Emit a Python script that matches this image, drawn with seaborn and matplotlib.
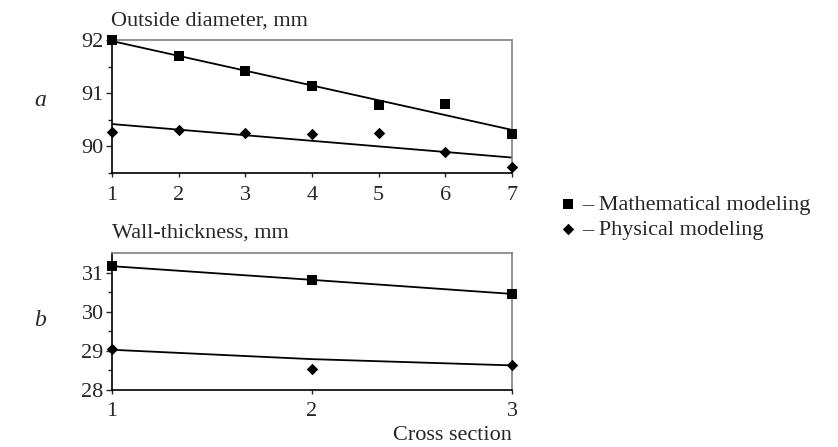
import numpy as np
import pandas as pd
import matplotlib.pyplot as plt
import seaborn as sns

# =====================================================================
# Données
# =====================================================================
# (a) diamètre extérieur, sections 1..7
sections_a = [1, 2, 3, 4, 5, 6, 7]
diam_math = [92.0, 91.70, 91.41, 91.14, 90.77, 90.79, 90.24]
diam_phys = [90.28, 90.30, 90.25, 90.23, 90.25, 89.90, 89.61]
trend_x_a = [1, 7]
trend_diam_math = [91.98, 90.31]
trend_diam_phys = [90.42, 89.79]

# (b) épaisseur de paroi, sections 1..3
sections_b = [1, 2, 3]
wall_math = [31.17, 30.82, 30.47]
wall_phys = [29.05, 28.55, 28.63]
trend_x_b = [1, 2, 3]
trend_wall_math = [31.17, 30.82, 30.46]
trend_wall_phys = [29.03, 28.79, 28.63]

label_math = "\u2013 Mathematical modeling"
label_phys = "\u2013 Physical modeling"

# =====================================================================
# Style
# =====================================================================
sns.set_style("ticks")
plt.rcParams['font.family'] = ['Liberation Serif', 'DejaVu Serif']
plt.rcParams['font.size'] = 16

W, H = 838, 447
fig = plt.figure(figsize=(W / 100, H / 100), dpi=100)
ax_a = fig.add_axes([112 / W, 1 - 173 / H, 400 / W, 133 / H])
ax_b = fig.add_axes([112 / W, 1 - 390 / H, 400 / W, 136.7 / H])

# =====================================================================
# Tracés
# =====================================================================
# 1. Panneau a
sns.lineplot(x=trend_x_a, y=trend_diam_math, color='black', lw=1.3, ax=ax_a)
sns.lineplot(x=trend_x_a, y=trend_diam_phys, color='black', lw=1.3, ax=ax_a)
sns.scatterplot(x=sections_a, y=diam_math, marker='s', s=50, color='black',
                edgecolor='black', linewidth=0, ax=ax_a, zorder=3, clip_on=False,
                legend=False, label=label_math)
sns.scatterplot(x=sections_a, y=diam_phys, marker='D', s=34, color='black',
                edgecolor='black', linewidth=0, ax=ax_a, zorder=3, clip_on=False,
                legend=False, label=label_phys)

# 2. Panneau b
sns.lineplot(x=trend_x_b, y=trend_wall_math, color='black', lw=1.3, ax=ax_b)
sns.lineplot(x=trend_x_b, y=trend_wall_phys, color='black', lw=1.3, ax=ax_b)
sns.scatterplot(x=sections_b, y=wall_math, marker='s', s=50, color='black',
                edgecolor='black', linewidth=0, ax=ax_b, zorder=3, clip_on=False,
                legend=False)
sns.scatterplot(x=sections_b, y=wall_phys, marker='D', s=34, color='black',
                edgecolor='black', linewidth=0, ax=ax_b, zorder=3, clip_on=False,
                legend=False)

# 3. Axes
ax_a.set_xlim(1, 7)
ax_a.set_ylim(89.5, 92)
ax_a.set_xticks(sections_a)
ax_a.set_yticks([90, 91, 92])
ax_a.set_yticks([89.5, 90.5, 91.5], minor=True)

ax_b.set_xlim(1, 3)
ax_b.set_ylim(28, 31.5)
ax_b.set_xticks(sections_b)
ax_b.set_yticks([28, 29, 30, 31])
ax_b.set_yticks([28.5, 29.5, 30.5], minor=True)

for ax in (ax_a, ax_b):
    for side in ('top', 'right'):
        ax.spines[side].set_color('#808080')
        ax.spines[side].set_linewidth(1.2)
    for side in ('left', 'bottom'):
        ax.spines[side].set_color('black')
        ax.spines[side].set_linewidth(1.2)
    ax.tick_params(axis='y', which='major', direction='out', length=4, width=1, pad=2)
    ax.tick_params(axis='y', which='minor', direction='out', length=3, width=1)
    ax.tick_params(axis='x', direction='out', length=3, width=1, pad=6)
    ax.set_xlabel("")
    ax.set_ylabel("")

ax_b.set_xlabel("Cross section", loc='right', labelpad=3)

# 4. Textes
fig.text(111 / W, 1 - 21 / H, "Outside diameter, mm", ha='left', va='center')
fig.text(112 / W, 1 - 233 / H, "Wall-thickness, mm", ha='left', va='center')
fig.text(40 / W, 1 - 101 / H, "a", style='italic', ha='center', va='center', fontsize=17)
fig.text(40 / W, 1 - 320 / H, "b", style='italic', ha='center', va='center', fontsize=17)

# 5. Légende
handles, labels = ax_a.get_legend_handles_labels()
keep = [(h, l) for h, l in zip(handles, labels) if l.startswith('\u2013')]
fig.legend([k[0] for k in keep], [k[1] for k in keep], loc='center left',
           bbox_to_anchor=(561 / W, 1 - 217 / H), frameon=False,
           handlelength=0.6, handletextpad=0.35, labelspacing=0.2,
           borderaxespad=0, borderpad=0, markerscale=1.0)

plt.savefig("out.png", dpi=100)
